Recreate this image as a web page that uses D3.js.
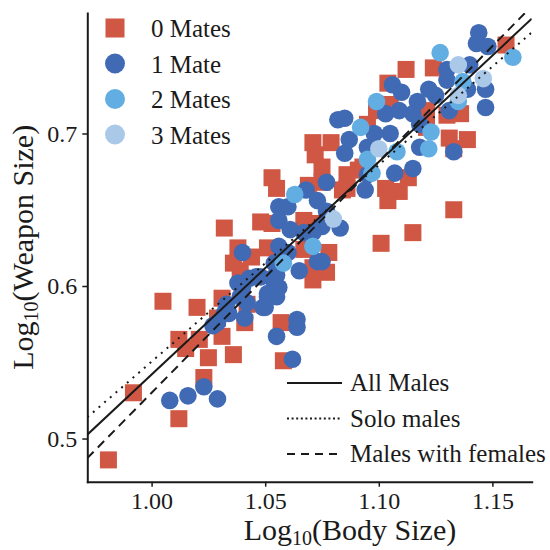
<!DOCTYPE html>
<html>
<head>
<meta charset="utf-8">
<script src="https://cdn.jsdelivr.net/npm/d3@7"></script>
<style>
  body { margin: 0; background: #fff; }
  svg text, svg tspan { font-family: "Liberation Serif", "Times New Roman", serif; fill: #1a1a1a; }
</style>
</head>
<body>
<svg id="chart" width="550" height="550"></svg>
<script>
const xTicks = [1.00, 1.05, 1.10, 1.15]
const yTicks = [0.5, 0.6, 0.7]

const groupLabels = ['0 Mates', '1 Mate', '2 Mates', '3 Mates']
const groupColors = ['#D05744', '#406AB4', '#62AEE2', '#AAC8E8']

// [log10 body size, log10 weapon size]
const mates0 = [
  [0.981,0.486],[0.992,0.530],[1.005,0.590],[1.012,0.513],[1.012,0.565],[1.015,0.559],[1.020,0.586],
  [1.021,0.565],[1.023,0.540],[1.025,0.553],[1.029,0.579],[1.031,0.567],[1.031,0.592],[1.036,0.555],
  [1.041,0.576],[1.057,0.576],[1.058,0.551],[1.032,0.638],[1.038,0.625],[1.036,0.615],[1.039,0.610],
  [1.048,0.642],[1.053,0.641],[1.051,0.625],[1.044,0.619],[1.053,0.671],[1.055,0.664],[1.042,0.588],
  [1.067,0.643],[1.073,0.641],[1.067,0.624],[1.071,0.612],[1.071,0.604],[1.072,0.686],[1.075,0.678],
  [1.086,0.673],[1.086,0.664],[1.103,0.664],[1.109,0.662],[1.104,0.656],[1.075,0.668],[1.133,0.650],
  [1.115,0.635],[1.101,0.628],[1.078,0.622],[1.077,0.609],[1.112,0.742],[1.124,0.743],[1.104,0.733],
  [1.099,0.715],[1.130,0.712],[1.136,0.713],[1.131,0.697],[1.139,0.696],[1.133,0.690],[1.121,0.715],
  [1.156,0.758],[1.071,0.694],[1.079,0.694],[1.093,0.678],[1.069,0.666],[1.084,0.663],[1.091,0.676],
  [1.113,0.671],[1.105,0.719],[1.121,0.704],[1.095,0.706]
]
const mates1 = [
  [1.008,0.525],[1.016,0.528],[1.023,0.534],[1.029,0.526],[1.055,0.567],[1.064,0.573],[1.062,0.552],
  [1.029,0.576],[1.034,0.582],[1.041,0.579],[1.049,0.586],[1.052,0.593],[1.056,0.599],[1.040,0.599],
  [1.038,0.602],[1.040,0.622],[1.043,0.605],[1.048,0.606],[1.051,0.593],[1.053,0.605],[1.054,0.615],
  [1.056,0.626],[1.056,0.643],[1.056,0.652],[1.033,0.588],[1.027,0.574],[1.068,0.663],[1.060,0.652],
  [1.061,0.637],[1.060,0.622],[1.065,0.610],[1.073,0.616],[1.067,0.635],[1.055,0.607],[1.046,0.606],
  [1.039,0.593],[1.042,0.589],[1.051,0.595],[1.050,0.586],[1.055,0.593],[1.032,0.582],[1.064,0.578],
  [1.085,0.687],[1.133,0.688],[1.095,0.673],[1.107,0.674],[1.115,0.677],[1.077,0.668],[1.073,0.656],
  [1.077,0.649],[1.083,0.638],[1.075,0.639],[1.071,0.635],[1.075,0.616],[1.094,0.663],[1.144,0.766],
  [1.143,0.759],[1.148,0.757],[1.140,0.745],[1.130,0.742],[1.130,0.735],[1.139,0.729],[1.147,0.729],
  [1.147,0.717],[1.131,0.715],[1.125,0.725],[1.122,0.729],[1.106,0.732],[1.110,0.727],[1.117,0.721],
  [1.082,0.709],[1.085,0.710],[1.087,0.696],[1.095,0.691],[1.098,0.700],[1.103,0.713],[1.109,0.715],
  [1.115,0.713],[1.118,0.706],[1.118,0.691],[1.105,0.700]
]
const mates2 = [
  [1.058,0.615],[1.063,0.660],[1.071,0.626],[1.095,0.683],[1.097,0.674],[1.108,0.688],[1.122,0.690],
  [1.123,0.701],[1.099,0.721],[1.092,0.704],[1.127,0.753],[1.137,0.734],[1.135,0.721],[1.159,0.750]
]
const mates3 = [
  [1.080,0.644],[1.100,0.690],[1.135,0.745],[1.146,0.736],[1.135,0.725]
]

// fitted lines: weapon = intercept + slope * body
const fitLabels = ['All Males', 'Solo males', 'Males with females']
const fitIntercepts = [-0.852, -0.7396, -0.985]
const fitSlopes = [1.394, 1.290, 1.515]
const fitDashes = [null, '2,5.5', '9,6']
const keyDashes = [null, '2,2.6', '8,6']

const width = 550, height = 550
const margin = { top: 13, right: 18.3, bottom: 68.3, left: 87.3 }
const serif = '"Liberation Serif", "Times New Roman", serif'

const svg = d3.select('#chart')

const x = d3.scaleLinear().domain([0.9717, 1.1673]).range([margin.left, width - margin.right])
const y = d3.scaleLinear().domain([0.4717, 0.779]).range([height - margin.bottom, margin.top])

svg.append('clipPath').attr('id', 'panel')
  .append('rect')
    .attr('x', margin.left).attr('y', margin.top)
    .attr('width', width - margin.left - margin.right)
    .attr('height', height - margin.top - margin.bottom)

// points, one layer per group
const groups = [mates0, mates1, mates2, mates3]
groups.forEach((pts, i) => {
  const g = svg.append('g').attr('fill', groupColors[i])
  if (i === 0) {
    g.selectAll('rect').data(pts).join('rect')
      .attr('x', d => x(d[0]) - 8.5)
      .attr('y', d => y(d[1]) - 8.5)
      .attr('width', 17).attr('height', 17)
  } else {
    g.selectAll('circle').data(pts).join('circle')
      .attr('cx', d => x(d[0]))
      .attr('cy', d => y(d[1]))
      .attr('r', 8.8)
  }
})

// regression lines
const line = d3.line().x(d => x(d[0])).y(d => y(d[1]))
svg.append('g').attr('clip-path', 'url(#panel)')
  .selectAll('path').data(fitLabels).join('path')
    .attr('d', (d, i) => line(x.domain().map(v => [v, fitIntercepts[i] + fitSlopes[i] * v])))
    .attr('fill', 'none')
    .attr('stroke', '#1a1a1a')
    .attr('stroke-width', 2)
    .attr('stroke-dasharray', (d, i) => fitDashes[i])

// axes
const styleAxis = g => {
  g.attr('font-family', serif).attr('font-size', 24).attr('color', '#1a1a1a')
  g.select('.domain').attr('stroke-width', 2).attr('stroke-linecap', 'square')
  g.selectAll('.tick line').attr('stroke-width', 1.5)
}

svg.append('g')
  .attr('transform', `translate(0, ${height - margin.bottom})`)
  .call(d3.axisBottom(x).tickValues(xTicks).tickFormat(d3.format('.2f')).tickSize(5).tickPadding(5).tickSizeOuter(0))
  .call(styleAxis)

svg.append('g')
  .attr('transform', `translate(${margin.left}, 0)`)
  .call(d3.axisLeft(y).tickValues(yTicks).tickFormat(d3.format('.1f')).tickSize(5).tickPadding(5).tickSizeOuter(0))
  .call(styleAxis)

// axis titles with subscript 10
const title = (sel, rest) => {
  sel.append('tspan').attr('font-family', serif).text('Log')
  sel.append('tspan').attr('font-family', serif).attr('font-size', 20).attr('dy', 5).text('10')
  sel.append('tspan').attr('font-family', serif).attr('dy', -5).text(rest)
}

svg.append('text')
  .attr('x', 350).attr('y', 540)
  .attr('text-anchor', 'middle')
  .attr('font-family', serif)
  .attr('font-size', 30)
  .call(title, '(Body Size)')

svg.append('text')
  .attr('transform', `translate(33, ${(margin.top + height - margin.bottom) / 2}) rotate(-90)`)
  .attr('text-anchor', 'middle')
  .attr('font-family', serif)
  .attr('font-size', 30)
  .call(title, '(Weapon Size)')

// point legend
const keys = svg.append('g')
groupLabels.forEach((label, i) => {
  const cy = 28 + i * 35.5
  if (i === 0) {
    keys.append('rect').attr('x', 105.5).attr('y', cy - 9.5).attr('width', 19).attr('height', 19).attr('fill', groupColors[i])
  } else {
    keys.append('circle').attr('cx', 115).attr('cy', cy).attr('r', 10).attr('fill', groupColors[i])
  }
  keys.append('text').attr('x', 151).attr('y', cy + 9).attr('font-family', serif).attr('font-size', 25).text(label)
})

// line legend
const lineKeys = svg.append('g')
fitLabels.forEach((label, i) => {
  const ly = 383 + i * 35.5
  lineKeys.append('line')
    .attr('x1', 287).attr('x2', 342).attr('y1', ly).attr('y2', ly)
    .attr('stroke', '#1a1a1a').attr('stroke-width', 2)
    .attr('stroke-dasharray', keyDashes[i])
  lineKeys.append('text').attr('x', 350).attr('y', ly + 8).attr('font-family', serif).attr('font-size', 25).text(label)
})
</script>
</body>
</html>
